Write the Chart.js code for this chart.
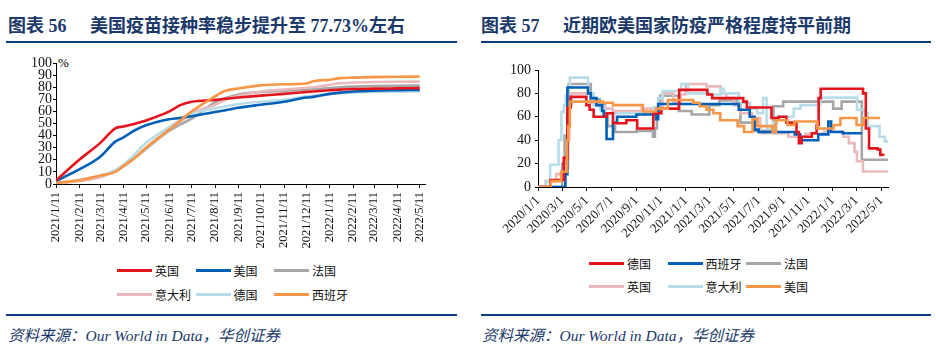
<!DOCTYPE html>
<html>
<head>
<meta charset="utf-8">
<script src="https://cdn.jsdelivr.net/npm/chart.js@4.4.1/dist/chart.umd.min.js"></script>
<style>
  body { margin: 0; width: 936px; height: 359px; background: #fff; position: relative; overflow: hidden; }
  .title { position: absolute; top: 11px; font-size: 18px; font-weight: bold; color: #1b3a6b; white-space: nowrap;
           font-family: "Liberation Serif", "Noto Sans CJK SC", serif; }
  .rule { position: absolute; height: 2px; background: #0d3c7a; }
  .src { position: absolute; top: 323px; font-size: 15.5px; font-style: italic; color: #1b3a6b; white-space: nowrap;
         font-family: "Liberation Serif", "Noto Sans CJK SC", serif; }
  .pct { position: absolute; left: 58px; top: 55px; font-size: 13px; font-family: "Liberation Serif", serif; }
  .lg { position: absolute; font-size: 12px; font-family: "Noto Sans CJK SC", sans-serif; color: #111;
        display: flex; align-items: center; height: 16px; white-space: nowrap; }
  .lg i { display: inline-block; width: 35px; height: 3px; margin-right: 3px; }
  canvas { position: absolute; }
</style>
</head>
<body>
<div class="title" style="left:8px">图表 56</div>
<div class="title" style="left:90px">美国疫苗接种率稳步提升至 77.73%左右</div>
<div class="title" style="left:481px">图表 57</div>
<div class="title" style="left:563px">近期欧美国家防疫严格程度持平前期</div>
<div class="rule" style="left:6px;width:451px;top:41px"></div>
<div class="rule" style="left:481px;width:450px;top:41px"></div>
<div class="pct">%</div>
<canvas id="vac" width="470" height="200" style="left:0;top:50px"></canvas>
<canvas id="strict" width="440" height="190" style="left:480px;top:55px"></canvas>
<div class="rule" style="left:6px;width:451px;top:314px"></div>
<div class="rule" style="left:481px;width:450px;top:314px"></div>
<div class="src" style="left:8px">资料来源：Our World in Data，华创证券</div>
<div class="src" style="left:482px">资料来源：Our World in Data，华创证券</div>

<script>
// ---- left chart: share of people vaccinated (%) ----
const vacStart = "2021-01-11";
const vacTicks = ["2021/1/11","2021/2/11","2021/3/11","2021/4/11","2021/5/11","2021/6/11","2021/7/11","2021/8/11",
  "2021/9/11","2021/10/11","2021/11/11","2021/12/11","2022/1/11","2022/2/11","2022/3/11","2022/4/11","2022/5/11"];
const vacDates = ["2021-01-11","2021-02-11","2021-03-11","2021-03-31","2021-04-11","2021-04-25","2021-05-11",
  "2021-06-11","2021-06-25","2021-07-11","2021-08-11","2021-08-25","2021-09-11","2021-10-11","2021-11-11",
  "2021-12-11","2021-12-20","2022-01-11","2022-01-25","2022-02-11","2022-03-11","2022-04-11","2022-05-11"];
const vacUK = [3, 20, 34, 46, 47.5, 49.5, 52.5, 60, 65, 68, 69.5, 70.5, 71.5, 73, 74.5, 76, 76.5, 77.5, 78, 78.5, 78.8, 79, 79.2];
const vacUS = [2.5, 12, 22.5, 35, 38.5, 44, 48.5, 53.5, 54.5, 56, 59.5, 61, 63, 65.5, 68, 71.5, 72, 74.5, 75.5, 76.5, 77.2, 77.5, 77.7];
const vacFR = [0.5, 3, 6, 11, 14.5, 21, 29, 44, 49, 54, 67.5, 71, 74, 76, 77, 78, 78.3, 79.3, 80, 80.5, 81, 81.2, 81.3];
const vacIT = [0.5, 2.5, 5.5, 11, 15, 21, 30, 45, 51, 58.5, 65.5, 69.5, 73, 76.5, 78, 79.5, 80, 82, 83.2, 83.8, 84.3, 84.5, 84.6];
const vacDE = [0.5, 3.5, 7, 11.5, 16, 24, 34, 47, 52.5, 58, 62.5, 64, 66, 68, 69.5, 72.5, 73, 74.5, 75, 75.7, 76.1, 76.3, 76.5];
const vacES = [1, 3, 7, 10, 15, 21, 30, 45, 52, 60, 72.5, 77, 79, 81.5, 82.4, 83, 85, 86.2, 87.5, 87.9, 88.3, 88.6, 88.8];
const vacNames = ["英国", "美国", "法国", "意大利", "德国", "西班牙"];

// ---- right chart: stringency index, [date the level starts, level] ----
const strStart = "2020-01-01";
const strTicks = ["2020/1/1","2020/3/1","2020/5/1","2020/7/1","2020/9/1","2020/11/1","2021/1/1","2021/3/1",
  "2021/5/1","2021/7/1","2021/9/1","2021/11/1","2022/1/1","2022/3/1","2022/5/1"];
const strDE = [["2020-01-01",0],["2020-02-01",6],["2020-03-05",25],["2020-03-14",68],["2020-03-22",77],["2020-04-30",70],
  ["2020-05-08",66],["2020-05-18",60],["2020-06-19",63],["2020-07-05",54.5],["2020-08-07",57],["2020-09-03",50],
  ["2020-10-13",63],["2020-11-02",67],["2020-12-16",83],["2021-02-24",79],["2021-03-08",76],["2021-05-24",73],
  ["2021-06-02",68],["2021-08-02",59],["2021-08-20",60],["2021-09-08",55],["2021-10-03",47],["2021-10-09",37.5],
  ["2021-10-16",43],["2021-11-10",46],["2021-11-22",53],["2021-11-27",76],["2021-12-02",84],["2022-03-17",80],
  ["2022-03-24",50],["2022-04-01",33],["2022-04-22",32],["2022-04-29",27.5],["2022-05-06",26.7]];
const strES = [["2020-01-01",0],["2020-03-09",11],["2020-03-14",85],["2020-05-04",80],["2020-05-11",76],["2020-05-25",70],
  ["2020-06-08",65],["2020-06-12",60],["2020-06-19",41],["2020-07-05",55],["2020-07-15",60],["2020-09-01",62],
  ["2020-10-20",58],["2020-10-25",71],["2021-05-13",66],["2021-06-09",60],["2021-06-21",49],["2021-07-01",47],
  ["2021-09-29",45],["2021-10-12",40],["2021-11-26",45],["2021-12-21",56],["2021-12-28",47],["2022-01-26",46],
  ["2022-03-14",46]];
const strFR = [["2020-01-01",0],["2020-03-01",20],["2020-03-07",44],["2020-03-17",88],["2020-05-11",75],["2020-06-02",70],
  ["2020-06-15",63],["2020-06-22",52],["2020-07-10",47],["2020-09-01",48],["2020-10-12",43],["2020-10-17",50],
  ["2020-10-22",63],["2020-10-30",78],["2020-12-15",65],["2021-01-16",62],["2021-03-01",70],["2021-03-26",74],
  ["2021-05-09",70],["2021-05-17",55],["2021-06-21",48],["2021-08-07",69],["2021-08-31",73],["2022-01-02",67],
  ["2022-01-23",73],["2022-03-14",23.3],["2022-05-18",23.3]];
const strGB = [["2020-01-01",0],["2020-01-20",5],["2020-02-15",11],["2020-03-06",17],["2020-03-16",40],["2020-03-19",70],
  ["2020-03-24",80],["2020-05-11",72],["2020-06-01",69],["2020-06-15",67],["2020-07-04",65],["2020-09-14",67],
  ["2020-10-14",68],["2020-11-05",80],["2020-12-02",73],["2020-12-20",79],["2021-01-01",88],["2021-02-22",86],
  ["2021-03-29",80],["2021-04-12",76],["2021-05-01",70],["2021-05-17",63],["2021-06-15",59],["2021-07-05",46],
  ["2021-09-13",43],["2021-10-26",45.5],["2021-12-10",47.4],["2022-01-27",43],["2022-02-10",37.5],["2022-02-24",30],
  ["2022-03-02",22],["2022-03-17",13.3],["2022-05-18",13.3]];
const strIT = [["2020-01-01",0],["2020-01-21",5],["2020-01-31",19],["2020-02-21",40],["2020-02-28",64],["2020-03-05",70],
  ["2020-03-10",78],["2020-03-16",85],["2020-03-20",93.5],["2020-05-04",80],["2020-05-18",70],["2020-06-03",66],
  ["2020-06-15",63],["2020-10-13",68],["2020-10-25",76],["2020-11-06",82],["2020-12-21",88],["2021-01-07",80],
  ["2021-03-01",79],["2021-03-29",84],["2021-04-06",80],["2021-05-13",72],["2021-06-10",67],["2021-06-28",63],
  ["2021-07-12",76],["2021-07-21",50],["2021-08-05",55],["2021-08-16",60],["2021-09-26",67],["2021-10-13",70],
  ["2021-12-01",76.4],["2022-03-02",66],["2022-03-21",63],["2022-03-29",52],["2022-04-27",43],["2022-05-10",39],
  ["2022-05-18",39]];
const strUS = [["2020-01-01",0],["2020-02-02",5],["2020-02-27",13],["2020-03-13",40],["2020-03-16",52],["2020-03-20",73],
  ["2020-06-10",72],["2020-07-05",70],["2020-09-17",64.5],["2020-10-20",67],["2020-11-18",74.4],["2021-01-20",72],
  ["2021-02-05",69],["2021-02-22",66],["2021-03-11",63],["2021-03-28",57],["2021-05-10",52],["2021-05-26",47],
  ["2021-06-16",58],["2021-06-28",52],["2021-08-05",47],["2021-08-13",57],["2021-09-11",53],["2021-09-28",56],
  ["2021-11-24",50],["2022-01-03",53],["2022-01-20",59],["2022-03-01",53],["2022-03-18",59],["2022-04-28",59]];
const strNames = ["德国", "西班牙", "法国", "英国", "意大利", "美国"];

const colors = ["#e3141c", "#0060b8", "#a6a6a6", "#e9b9bc", "#b8dde8", "#f79646"];
const serif = "'Liberation Serif', 'Times New Roman', serif";

// days since a start date, works for "2021-01-11" and "2021/1/11"
function dayOf(s, start) {
  const [y, m, d] = s.split(/[-\/]/).map(Number);
  const [y0, m0, d0] = start.split(/[-\/]/).map(Number);
  return (Date.UTC(y, m - 1, d) - Date.UTC(y0, m0 - 1, d0)) / 86400000;
}

function axes(opts) {
  const tickDays = opts.ticks.map(t => dayOf(t, opts.start));
  return {
    x: {
      type: "linear", min: 0, max: opts.xMax,
      afterBuildTicks: s => { s.ticks = tickDays.map(v => ({ value: v })); },
      afterFit: s => { s.height = opts.xHeight; },
      border: { display: true, color: "#000", width: 1 },
      grid: { drawOnChartArea: false, drawTicks: true, tickLength: 4, color: "#000" },
      ticks: {
        autoSkip: false, minRotation: opts.rot, maxRotation: opts.rot, padding: opts.pad,
        color: "#111", font: { family: serif, size: opts.xFont },
        callback: (v, i) => opts.ticks[i]
      }
    },
    y: {
      min: 0, max: 100,
      afterFit: s => { s.width = opts.yWidth; },
      border: { display: true, color: "#000", width: 1 },
      grid: { drawOnChartArea: false, drawTicks: true, tickLength: 3, color: "#000" },
      ticks: { stepSize: opts.yStep, autoSkip: false, padding: opts.yPad, color: "#111",
               font: { family: serif, size: opts.yFont } }
    }
  };
}

const vacSeries = [vacUK, vacUS, vacFR, vacIT, vacDE, vacES];
const vacOrder = [2, 3, 6, 5, 4, 1];
new Chart(document.getElementById("vac"), {
  type: "line",
  data: {
    datasets: vacSeries.map((vals, i) => ({
      label: vacNames[i],
      data: vals.map((v, j) => ({ x: dayOf(vacDates[j], vacStart), y: v })),
      borderColor: colors[i], borderWidth: 2.6, pointRadius: 0,
      cubicInterpolationMode: "monotone", order: vacOrder[i]
    }))
  },
  options: {
    responsive: false, animation: false,
    layout: { padding: { top: 13, right: 45, left: 0, bottom: 0 } },
    plugins: { legend: { display: false }, tooltip: { enabled: false } },
    scales: axes({ start: vacStart, ticks: vacTicks, xMax: 492, xHeight: 66, rot: 90, pad: 4, xFont: 12.5,
                   yWidth: 56, yStep: 10, yPad: 1, yFont: 14 })
  }
});

const strSeries = [strDE, strES, strFR, strGB, strIT, strUS];
const strOrder = [2, 3, 6, 5, 4, 1];
new Chart(document.getElementById("strict"), {
  type: "line",
  data: {
    datasets: strSeries.map((pairs, i) => ({
      label: strNames[i],
      data: pairs.map(p => ({ x: dayOf(p[0], strStart), y: p[1] })),
      borderColor: colors[i], borderWidth: 2.6, pointRadius: 0,
      stepped: true, order: strOrder[i]
    }))
  },
  options: {
    responsive: false, animation: false,
    layout: { padding: { top: 15, right: 32, left: 0, bottom: 0 } },
    plugins: { legend: { display: false }, tooltip: { enabled: false } },
    scales: axes({ start: strStart, ticks: strTicks, xMax: 868, xHeight: 58, rot: 45, pad: 2, xFont: 13,
                   yWidth: 58, yStep: 20, yPad: 4, yFont: 14 })
  }
});

// legends in a 3 x 2 grid
function legend(names, x0, y0, dx, dy) {
  names.forEach((n, i) => {
    const d = document.createElement("div");
    d.className = "lg";
    d.style.left = (x0 + (i % 3) * dx) + "px";
    d.style.top = (y0 + Math.floor(i / 3) * dy - 8) + "px";
    d.innerHTML = '<i style="background:' + colors[i] + '"></i>' + n;
    document.body.appendChild(d);
  });
}
legend(vacNames, 117, 270, 78.5, 24);
legend(strNames, 589, 263, 78.5, 23);
</script>
</body>
</html>
